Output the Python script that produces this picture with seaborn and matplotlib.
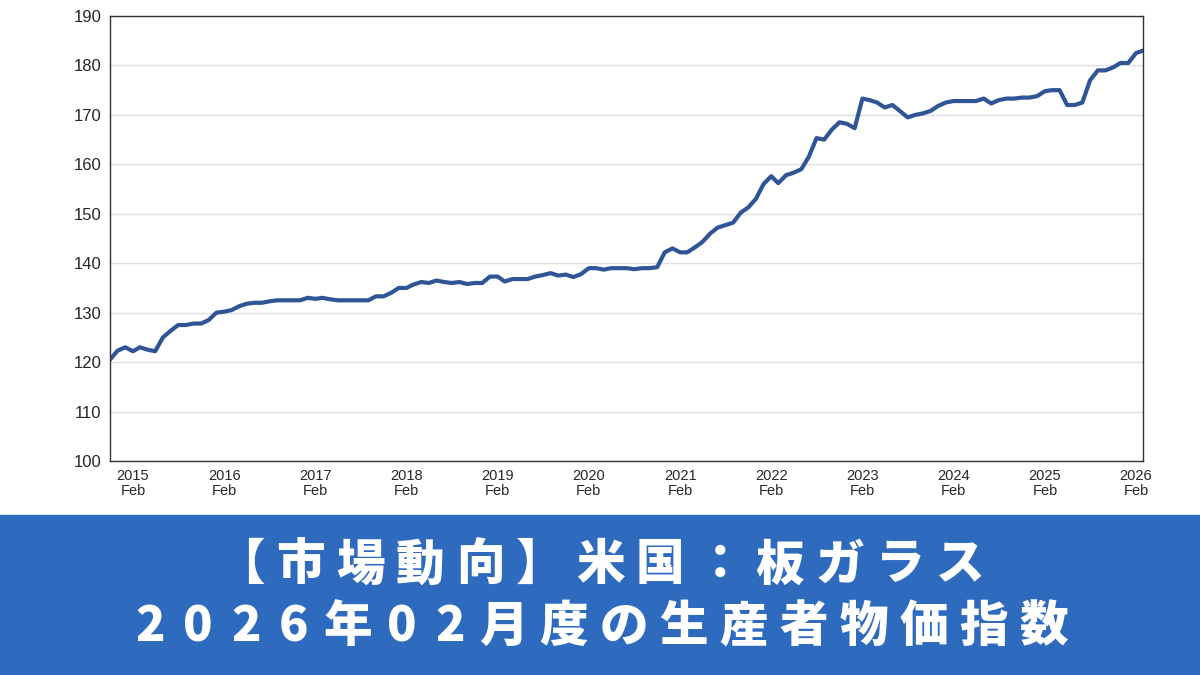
import pandas as pd
import matplotlib.pyplot as plt
import seaborn as sns

# 月次データ 2014-11 〜 2026-02
values = [120.5, 122.3,
          123, 122.2, 123, 122.5, 122.2, 125, 126.3, 127.5, 127.5, 127.8, 127.8, 128.5,
          130, 130.2, 130.5, 131.3, 131.8, 132, 132, 132.3, 132.5, 132.5, 132.5, 132.5,
          133, 132.8, 133, 132.7, 132.5, 132.5, 132.5, 132.5, 132.5, 133.3, 133.3, 134,
          135, 135, 135.7, 136.2, 136, 136.5, 136.2, 136, 136.2, 135.8, 136, 136,
          137.3, 137.3, 136.3, 136.8, 136.8, 136.8, 137.3, 137.6, 138, 137.5, 137.7, 137.2,
          137.8, 139, 139, 138.7, 139, 139, 139, 138.8, 139, 139, 139.2, 142.2,
          143, 142.2, 142.2, 143.2, 144.3, 146, 147.2, 147.7, 148.2, 150.2, 151.3, 153,
          156, 157.6, 156.2, 157.8, 158.3, 159, 161.5, 165.3, 165, 167, 168.5, 168.2,
          167.3, 173.3, 173, 172.5, 171.5, 172, 170.8, 169.5, 170, 170.3, 170.8, 171.8,
          172.5, 172.8, 172.8, 172.8, 172.8, 173.3, 172.3, 173, 173.3, 173.3, 173.5, 173.5,
          173.8, 174.8, 175, 175, 172, 172, 172.5, 177, 179, 179, 179.6, 180.5,
          180.5, 182.5, 183]
dates = pd.date_range('2014-11-01', periods=len(values), freq='MS')
df = pd.DataFrame({'date': dates, 'value': values})

title1 = '【市場動向】米国：板ガラス'
title2 = '2026年02月度の生産者物価指数'

sns.set_style('white')
plt.rcParams['font.family'] = ['Noto Sans CJK JP', 'DejaVu Sans']

fig = plt.figure(figsize=(12, 6.75), dpi=100)
ax = fig.add_axes([110/1200, 1-461/675, 1033/1200, 445/675])
sns.lineplot(data=df, x='date', y='value', ax=ax, color='#2f5597', linewidth=3)

ax.set_xlim(dates[0], dates[-1])
ax.set_ylim(100, 190)
ax.set_yticks(range(100, 191, 10))
ax.grid(axis='y', color='#e0e0e0', linewidth=1)
ticks = pd.date_range('2015-02-01', '2026-02-01', freq='12MS')
ax.set_xticks(ticks)
ax.set_xticklabels([f'{d.year}\nFeb' for d in ticks], fontsize=10.5, family='Liberation Sans', linespacing=1.1)
for lab in ax.get_yticklabels():
    lab.set_family('Liberation Sans')
    lab.set_fontsize(12)
ax.tick_params(axis='x', length=0, pad=6)
ax.tick_params(axis='y', length=0, pad=6)
ax.set_xlabel('')
ax.set_ylabel('')
for s in ax.spines.values():
    s.set_color('#333333')
    s.set_linewidth(1)

# 下部バナー
fig.patches.append(plt.Rectangle((0, 0), 1, 160/675, transform=fig.transFigure,
                                 color='#2e6bbf', zorder=0))

# 字間を広げて1文字ずつ配置
def spaced(text, yc):
    adv = [48 if ch.isascii() else 60 for ch in text]
    total = sum(adv)
    x = 600 - total / 2
    for ch, a in zip(text, adv):
        fig.text((x + a / 2) / 1200, 1 - yc / 675, ch, ha='center', va='center',
                 color='white', fontsize=35, fontweight='heavy')
        x += a

spaced(title1, 565)
spaced(title2, 627)

fig.savefig('out.png', dpi=100)
